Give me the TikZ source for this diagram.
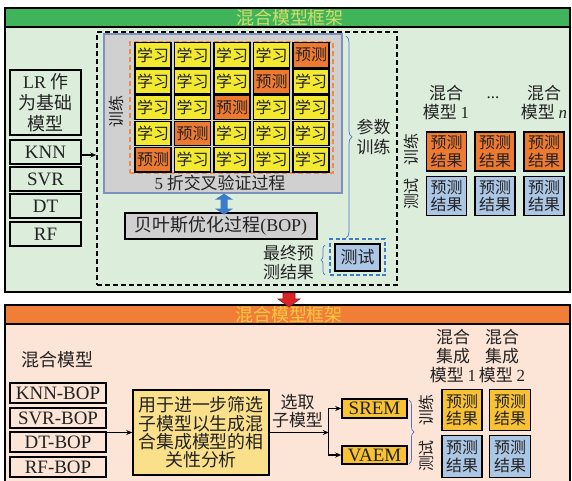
\documentclass[tikz,border=0pt]{standalone}
\usepackage{fontspec}
\setmainfont{Liberation Serif}
\newfontfamily\zh{Noto Sans CJK SC}
\usetikzlibrary{decorations.pathreplacing,calc,arrows.meta}
\newcommand\latn[1]{{\rmfamily #1}}
\newcommand\fzh[2]{\fontsize{#1}{#2}\selectfont\zh}
\newcommand\fltn[2]{\fontsize{#1}{#2}\selectfont\rmfamily}
\definecolor{topbg}{HTML}{DCEDDB}
\definecolor{topbar}{HTML}{40B45A}
\definecolor{toptxt}{HTML}{D4DC68}
\definecolor{botbg}{HTML}{FCE4D6}
\definecolor{botbar}{HTML}{F07E36}
\definecolor{bottxt}{HTML}{F7C843}
\definecolor{cellY}{HTML}{F3EA30}
\definecolor{cellO}{HTML}{EE7A30}
\definecolor{cvgray}{HTML}{D0D0D0}
\definecolor{cvedge}{HTML}{7D91BF}
\definecolor{dashO}{HTML}{F08C44}
\definecolor{lblue}{HTML}{ACC6E6}
\definecolor{bblue}{HTML}{3C7BC9}
\definecolor{bracec}{HTML}{4D76C4}
\definecolor{gold}{HTML}{F8C234}
\definecolor{pale}{HTML}{FBE08B}
\definecolor{ink}{HTML}{222222}
\definecolor{redarr}{HTML}{DA2428}
\definecolor{reddk}{HTML}{8B1A1A}
\begin{document}
\begin{tikzpicture}[x=1bp,y=-1bp,
  every node/.style={text=ink},
  frame/.style={draw=black, line width=1.8bp, inner sep=0pt},
  bx/.style 2 args={draw=black, line width=1.5bp, inner sep=0pt, minimum width=#1bp, minimum height=#2bp},
  arr/.style={line width=1.2bp, -{Stealth[length=6bp,width=5bp]}},
  brc/.style={draw=bracec, line width=0.7bp, decorate},
  zhA/.style={font=\fzh{17}{20}, align=center},
  zhB/.style={font=\fzh{16}{18}, align=center},
  latA/.style={font=\fltn{19}{22}},
]
\useasboundingbox (0,0) rectangle (572,481);
\fill[white] (0,0) rectangle (572,481);

% ---------------- top frame ----------------
\node[frame, fill=topbg, minimum width=565bp, minimum height=284bp] (topf) at (287.5,150) {};
\node[frame, fill=topbar, minimum width=565bp, minimum height=19bp] (toph) at (287.5,17.5) {};
\node[text=toptxt, font=\fzh{18}{20}] (tophtxt) at (290,17.5) {混合模型框架};

\node[bx={71}{65}, fill=topbg, font=\fzh{18}{21}, align=center] (lr) at (45.5,102.5) {\latn{LR} 作\\为基础\\模型};
\node[bx={71}{24}, fill=topbg, latA] (knn) at (45.5,152) {KNN};
\node[bx={71}{24}, fill=topbg, latA] (svr) at (45.5,179) {SVR};
\node[bx={71}{24}, fill=topbg, latA] (dt) at (45.5,206) {DT};
\node[bx={71}{24}, fill=topbg, latA] (rf) at (45.5,234) {RF};

\node[draw=black, line width=1.5bp, dash pattern=on 5bp off 3bp, inner sep=0pt,
      minimum width=300bp, minimum height=253bp] (dbox) at (247,158.5) {};
\draw[arr] (knn.east) ++(0,3) coordinate (k1) -- (k1 -| dbox.west);

\node[draw=cvedge, fill=cvgray, line width=1.3bp, inner sep=0pt,
      minimum width=238bp, minimum height=159bp] (cv) at (223,113.5) {};
\node[draw=dashO, line width=1.6bp, dash pattern=on 5bp off 3bp, inner sep=0pt,
      minimum width=203bp, minimum height=131bp] (odash) at (231.5,107.5) {};

\foreach \i in {0,...,4}{
  \foreach \j in {0,...,4}{
    \pgfmathtruncatemacro{\s}{\i+\j}
    \ifnum\s=4
      \node[bx={36}{24.5}, line width=1.3bp, fill=cellO, zhB] (c\i\j) at ({153+39.5*\i},{55+26.2*\j}) {预测};
    \else
      \node[bx={36}{24.5}, line width=1.3bp, fill=cellY, zhB] (c\i\j) at ({153+39.5*\i},{55+26.2*\j}) {学习};
    \fi
  }
}
\node[rotate=90, zhB] (trnl) at (116,112) {训练};
\node[zhA] (cvlab) at (220,183) {\latn{5} 折交叉验证过程};

\node[bx={192}{26}, fill=cvgray, font=\fzh{18}{20}] (bop) at (221,226) {贝叶斯优化过程\latn{(BOP)}};

% blue double arrow between cv and bop
\coordinate (ua) at ([xshift=1bp]cv.south);
\fill[bblue] (ua) -- ++(9,6) -- ++(-5.5,0) -- ++(0,9) -- ++(5.5,0) -- ++(-9,6)
   -- ++(-9,-6) -- ++(5.5,0) -- ++(0,-9) -- ++(-5.5,0) -- cycle;

% test box
\node[draw=bblue, line width=1.5bp, dash pattern=on 4bp off 2.5bp, inner sep=0pt,
      minimum width=55bp, minimum height=36bp] (tdash) at (357.5,257) {};
\node[bx={45}{27}, fill=lblue, zhA] (test) at (357.5,257.5) {测试};
\node[zhA, font=\fzh{17}{19}] (final) at (288.5,262.5) {最终预\\测结果};
\node[zhA] (param) at (373.5,137) {参数\\训练};

\draw[brc, decoration={brace, amplitude=6bp}] (346,36) -- (346,238);
\draw[brc, decoration={brace, amplitude=4bp}] (325,275) -- (325,245);

% right column
\node[zhA, font=\fzh{17}{19}] (m1) at (446,102.5) {混合\\模型 \latn{1}};
\node[font=\fltn{17}{19}] (dots) at (493,98) {...};
\node[zhA, font=\fzh{17}{19}] (mn) at (544,102.5) {混合\\模型 \latn{\itshape n}};
\foreach \k/\x in {1/446.5,2/495,3/544}{
  \node[bx={40}{39}, fill=cellO, zhB] (ro\k) at (\x,151.5) {预测\\结果};
  \node[bx={40}{39}, fill=lblue, zhB] (rb\k) at (\x,196) {预测\\结果};
}
\node[rotate=90, zhB] (rtrn) at (411.5,150) {训练};
\node[rotate=90, zhB] (rtst) at (411.5,194) {测试};

% ---------------- bottom frame ----------------
\node[frame, fill=botbg, minimum width=565bp, minimum height=180bp] (botf) at (287.5,395) {};
\node[frame, fill=botbar, minimum width=565bp, minimum height=19bp] (both) at (287.5,314.5) {};
\node[text=bottxt, font=\fzh{18}{20}] (bothtxt) at (289,315) {混合模型框架};

% red arrow between frames
\coordinate (ra) at ([xshift=1.5bp]topf.south);
\filldraw[fill=redarr, draw=reddk, line width=0.6bp]
  ($(ra)+(-6,0)$) -- ++(12,0) -- ++(0,6) -- ++(5,0) -- ($(ra)+(0,14)$)
  -- ($(ra)+(-11,6)$) -- ++(5,0) -- cycle;

\node[font=\fzh{18}{20}] (hm) at (57.5,360) {混合模型};
\node[bx={96}{20}, fill=botbg, latA] (knnb) at (58,393) {KNN-BOP};
\node[bx={96}{20}, fill=botbg, latA] (svrb) at (58,418) {SVR-BOP};
\node[bx={96}{20}, fill=botbg, latA] (dtb) at (58,442) {DT-BOP};
\node[bx={96}{20}, fill=botbg, latA] (rfb) at (58,467) {RF-BOP};

\node[bx={136}{85}, fill=pale, font=\fzh{18}{18.5}, align=center] (big) at (201,432.5)
  {用于进一步筛选\\子模型以生成混\\合集成模型的相\\关性分析};
\draw[arr] (big.west -| dtb.east) -- (big.west);

\node[bx={65}{19}, fill=gold, latA] (srem) at (374.5,408.5) {SREM};
\node[bx={65}{18}, fill=gold, latA] (vaem) at (374.5,455) {VAEM};
\coordinate (j) at ($(big.east)+(59,0)$);
\draw[arr] (big.east) -- (j);
\draw[arr] (j) |- (srem.west);
\draw[arr] (j) |- (vaem.west);
\node[zhA, font=\fzh{17}{18}] (sel) at (297.5,411) {选取\\子模型};

\draw[brc, decoration={brace, amplitude=5bp}] (409,400) -- (409,464);
\node[rotate=90, zhB] (btrn) at (426,410) {训练};
\node[rotate=90, zhB] (btst) at (426,456) {测试};

\node[zhA, font=\fzh{17}{19}] (e1) at (453,356) {混合\\集成\\模型 \latn{1}};
\node[zhA, font=\fzh{17}{19}] (e2) at (502,356) {混合\\集成\\模型 \latn{2}};
\node[bx={40}{41}, fill=gold, zhB] (g1) at (462,410) {预测\\结果};
\node[bx={41}{41}, fill=gold, zhB] (g2) at (510,410) {预测\\结果};
\node[bx={40}{42}, fill=lblue, zhB] (b1) at (462,456.5) {预测\\结果};
\node[bx={41}{42}, fill=lblue, zhB] (b2) at (510,456.5) {预测\\结果};
\end{tikzpicture}
\end{document}
